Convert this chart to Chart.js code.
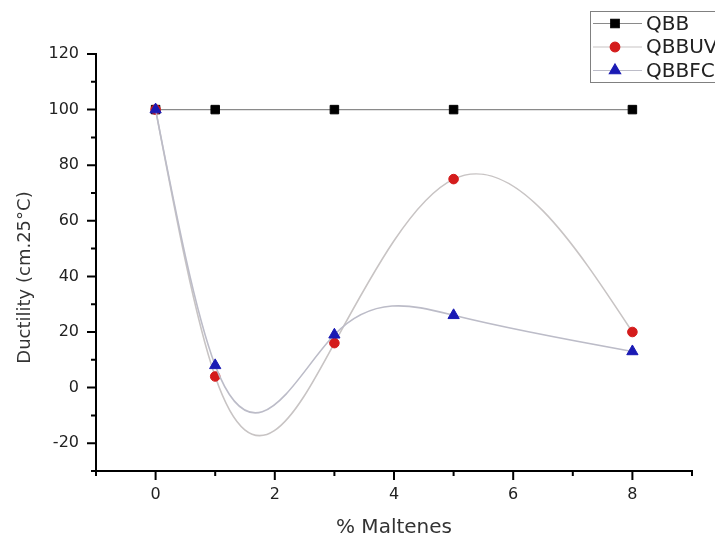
<!DOCTYPE html>
<html>
<head>
<meta charset="utf-8">
<title>Ductility vs % Maltenes</title>
<script src="https://cdn.jsdelivr.net/npm/chart.js@4.4.1/dist/chart.umd.min.js"></script>
<style>
    body { margin: 0; background: #fff; }
    #grafico { display: block; }
</style>
</head>
<body>
<canvas id="grafico" width="715" height="540"></canvas>
<script>
/* datos */
var maltenes = [0, 1, 3, 5, 8];
var qbb = [100, 100, 100, 100, 100];
var qbbuv = [100, 4, 16, 75, 20];
var qbbfc = [100, 8, 19, 26, 13];

var etiquetasX = [0, 2, 4, 6, 8];
var etiquetasY = [-20, 0, 20, 40, 60, 80, 100, 120];

function puntos(valores) {
    return maltenes.map(function (x, i) {
        return { x: x, y: valores[i] };
    });
}

/* pendientes de un spline cubico natural (como "spline connect" de Origin) */
function pendientesSpline(xs, ys) {
    var n = xs.length;
    var h = [];
    var M = [];
    var i;
    for (i = 0; i < n; i++) M.push(0);
    for (i = 0; i < n - 1; i++) h.push(xs[i + 1] - xs[i]);
    var a = [], b = [], c = [], d = [];
    for (i = 1; i < n - 1; i++) {
        a.push(h[i - 1]);
        b.push(2 * (h[i - 1] + h[i]));
        c.push(h[i]);
        d.push(6 * ((ys[i + 1] - ys[i]) / h[i] - (ys[i] - ys[i - 1]) / h[i - 1]));
    }
    var m = b.length;
    for (i = 1; i < m; i++) {
        var w = a[i] / b[i - 1];
        b[i] -= w * c[i - 1];
        d[i] -= w * d[i - 1];
    }
    var sol = [];
    sol[m - 1] = d[m - 1] / b[m - 1];
    for (i = m - 2; i >= 0; i--) sol[i] = (d[i] - c[i] * sol[i + 1]) / b[i];
    for (i = 0; i < m; i++) M[i + 1] = sol[i];
    var s = [];
    for (i = 0; i < n - 1; i++) s.push((ys[i + 1] - ys[i]) / h[i] - h[i] * (2 * M[i] + M[i + 1]) / 6);
    s.push((ys[n - 1] - ys[n - 2]) / h[n - 2] + h[n - 2] * (M[n - 2] + 2 * M[n - 1]) / 6);
    return s;
}

/* cambia los puntos de control de la linea por los del spline */
var pluginSpline = {
    id: "spline",
    beforeDatasetDraw: function (chart, args) {
        var meta = args.meta;
        var ds = chart.data.datasets[args.index];
        if (!ds.spline) return;
        var xs = meta._parsed.map(function (p) { return p.x; });
        var ys = meta._parsed.map(function (p) { return p.y; });
        var s = pendientesSpline(xs, ys);
        var sx = chart.scales.x, sy = chart.scales.y;
        var n = xs.length;
        for (var i = 0; i < n; i++) {
            var pt = meta.data[i];
            var h;
            if (i > 0) {
                h = xs[i] - xs[i - 1];
                pt.cp1x = sx.getPixelForValue(xs[i] - h / 3);
                pt.cp1y = sy.getPixelForValue(ys[i] - s[i] * h / 3);
            } else {
                pt.cp1x = pt.x; pt.cp1y = pt.y;
            }
            if (i < n - 1) {
                h = xs[i + 1] - xs[i];
                pt.cp2x = sx.getPixelForValue(xs[i] + h / 3);
                pt.cp2y = sy.getPixelForValue(ys[i] + s[i] * h / 3);
            } else {
                pt.cp2x = pt.x; pt.cp2y = pt.y;
            }
        }
        meta.dataset._pointsUpdated = true;
        meta.dataset._path = undefined;
    }
};

/* marcas de los ejes (mayores y menores), titulo Y y leyenda */
var pluginEjes = {
    id: "ejes",
    afterDraw: function (chart) {
        var ctx = chart.ctx;
        var area = chart.chartArea;
        var sx = chart.scales.x, sy = chart.scales.y;
        ctx.save();
        ctx.strokeStyle = "#000";
        ctx.lineWidth = 2;
        ctx.beginPath();
        sx.ticks.forEach(function (t) {
            var px = sx.getPixelForValue(t.value);
            var largo = etiquetasX.indexOf(t.value) >= 0 ? 9 : 5;
            ctx.moveTo(px, area.bottom);
            ctx.lineTo(px, area.bottom + largo);
        });
        sy.ticks.forEach(function (t) {
            var py = sy.getPixelForValue(t.value);
            var largo = etiquetasY.indexOf(t.value) >= 0 ? 9 : 5;
            ctx.moveTo(area.left, py);
            ctx.lineTo(area.left - largo, py);
        });
        ctx.stroke();

        // titulo eje y
        ctx.fillStyle = "#333";
        ctx.font = "18px 'DejaVu Sans'";
        ctx.textAlign = "center";
        ctx.textBaseline = "middle";
        ctx.translate(25, (area.top + area.bottom) / 2 + 15);
        ctx.rotate(-Math.PI / 2);
        ctx.fillText("Ductility (cm.25°C)", 0, 0);
        ctx.restore();

        // leyenda
        ctx.save();
        ctx.fillStyle = "#fff";
        ctx.fillRect(590.5, 11.5, 140, 71);
        ctx.strokeStyle = "#808080";
        ctx.lineWidth = 1;
        ctx.strokeRect(590.5, 11.5, 140, 71);
        var filas = [0, 1, 2];
        filas.forEach(function (k) {
            var ds = chart.data.datasets[k];
            var y = 23.5 + k * 23.5;
            ctx.strokeStyle = ds.borderColor;
            ctx.lineWidth = 1.2;
            ctx.beginPath();
            ctx.moveTo(593, y);
            ctx.lineTo(642, y);
            ctx.stroke();
            ctx.fillStyle = ds.pointBackgroundColor;
            ctx.strokeStyle = ds.pointBackgroundColor;
            Chart.helpers.drawPoint(ctx, {
                pointStyle: ds.pointStyle,
                radius: ds.pointRadius,
                rotation: 0,
                borderWidth: 1
            }, 615, y);
            ctx.fillStyle = "#222";
            ctx.font = "20px 'DejaVu Sans'";
            ctx.textAlign = "left";
            ctx.textBaseline = "middle";
            ctx.fillText(ds.label, 646, y + 1);
        });
        ctx.restore();
    }
};

function cargaGrafico() {
    Chart.defaults.font.family = "'DejaVu Sans'";
    Chart.defaults.color = "#222";

    var datos = {
        datasets: [{
            label: "QBB",
            data: puntos(qbb),
            borderColor: "#8a8a8a",
            borderWidth: 1.2,
            pointStyle: "rect",
            pointRadius: 6,
            pointBackgroundColor: "#000",
            pointBorderColor: "#000",
            pointBorderWidth: 1,
            tension: 0,
            order: 2
        }, {
            label: "QBBUV",
            data: puntos(qbbuv),
            borderColor: "#c8c4c4",
            borderWidth: 1.6,
            pointStyle: "circle",
            pointRadius: 4.8,
            pointBackgroundColor: "#d41c1c",
            pointBorderColor: "#d41c1c",
            pointBorderWidth: 1,
            tension: 0.4,
            spline: true,
            order: 1
        }, {
            label: "QBBFC",
            data: puntos(qbbfc),
            borderColor: "#bcbcc8",
            borderWidth: 1.6,
            pointStyle: "triangle",
            pointRadius: 6.5,
            pointBackgroundColor: "#1a1ab4",
            pointBorderColor: "#1a1ab4",
            pointBorderWidth: 1,
            tension: 0.4,
            spline: true,
            order: 0
        }]
    };

    var config = {
        type: "line",
        data: datos,
        plugins: [pluginSpline, pluginEjes],
        options: {
            responsive: false,
            animation: false,
            events: [],
            layout: {
                padding: { top: 54, right: 23, left: 0, bottom: 0 }
            },
            plugins: {
                legend: { display: false },
                tooltip: { enabled: false }
            },
            scales: {
                x: {
                    type: "linear",
                    min: -1,
                    max: 9,
                    afterFit: function (scale) { scale.height = 69; },
                    border: { display: true, color: "#000", width: 2 },
                    grid: { display: false, drawTicks: false },
                    ticks: {
                        stepSize: 1,
                        autoSkip: false,
                        maxRotation: 0,
                        padding: 14,
                        font: { size: 16 },
                        callback: function (v) {
                            return etiquetasX.indexOf(v) >= 0 ? v : "";
                        }
                    },
                    title: {
                        display: true,
                        text: "% Maltenes",
                        color: "#333",
                        font: { size: 20 },
                        padding: { top: 0, bottom: 0 }
                    }
                },
                y: {
                    min: -30,
                    max: 120,
                    afterFit: function (scale) { scale.width = 96; },
                    border: { display: true, color: "#000", width: 2 },
                    grid: { display: false, drawTicks: false },
                    ticks: {
                        stepSize: 10,
                        autoSkip: false,
                        padding: 17,
                        font: { size: 16 },
                        callback: function (v) {
                            return etiquetasY.indexOf(v) >= 0 ? v : "";
                        }
                    }
                }
            }
        }
    };

    new Chart(document.getElementById("grafico").getContext("2d"), config);
}

window.onload = function () {
    cargaGrafico();
};
</script>
</body>
</html>
